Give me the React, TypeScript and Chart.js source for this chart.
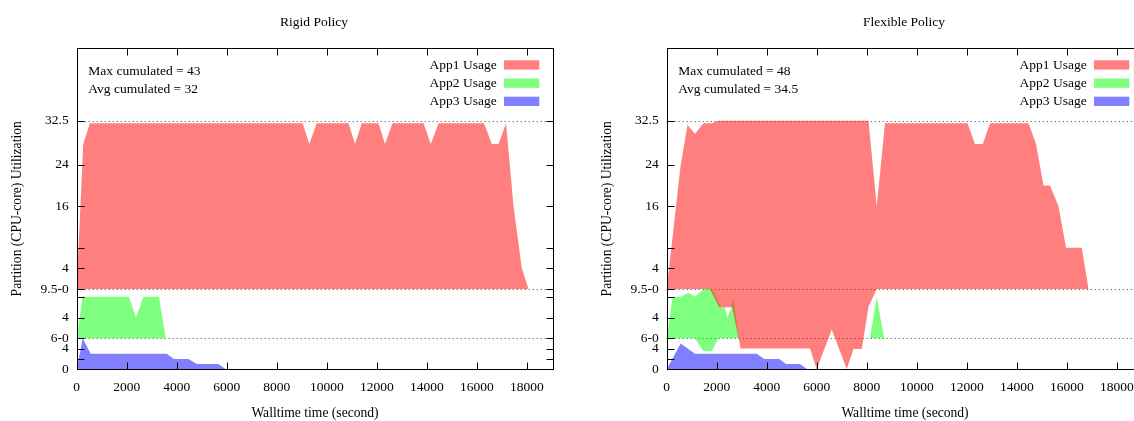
import React, { useEffect, useRef } from 'react';
import { Chart, registerables } from 'chart.js';

Chart.register(...registerables);

// ---------- axes ----------
const X_TICKS = [0, 2000, 4000, 6000, 8000, 10000, 12000, 14000, 16000, 18000];
const X_MAX = 19060;
const Y_MAX = 62;
// band bases on the shared axis: App3 0..6, App2 6..15.5, App1 15.5..
const APP1_BASE = 15.5;
const APP2_BASE = 6;
const APP3_BASE = 0;
const Y_TICK_VALUES = [0, 2, 4, 6, 10, 14, 15.5, 19.5, 23.5, 31.5, 39.5, 48];
const Y_TICK_LABELS = ['0', '', '4', '6-0', '4', '', '9.5-0', '4', '', '16', '24', '32.5'];
const GRID_VALUES = [6, 15.5, 48];

// ---------- Rigid policy ----------
const rigidApp1Time = [0, 260, 530, 9040, 9300, 9600, 10870, 11130, 11400, 12070, 12330, 12630, 13870, 14160, 14470, 16290, 16600, 16870, 17170, 17470, 17800, 18070];
const rigidApp1Cores = [0, 28, 32, 32, 28, 32, 32, 28, 32, 32, 28, 32, 32, 28, 32, 32, 28, 28, 32, 16, 4, 0];
const rigidApp2Time = [0, 240, 2090, 2370, 2670, 3290, 3560];
const rigidApp2Cores = [0, 8, 8, 4, 8, 8, 0];
const rigidApp3Time = [0, 240, 560, 3600, 3890, 4470, 4800, 5670, 5960];
const rigidApp3Cores = [0, 6, 3, 3, 2, 2, 1, 1, 0];

// ---------- Flexible policy ----------
const flexApp1Time = [0, 560, 830, 1130, 1470, 1800, 2070, 8070, 8400, 8730, 12030, 12330, 12640, 12930, 14470, 14770, 15070, 15330, 15670, 15970, 16600, 16870];
const flexApp1Cores = [0, 24, 31.7, 30, 32, 32, 32.5, 32.5, 16, 32, 32, 28, 28, 32, 32, 28, 20, 20, 16, 8, 8, 0];
// lower edge of the App1 area, in axis units
const flexApp1FloorTime = [0, 1730, 2100, 2620, 2960, 5730, 6000, 6600, 7200, 7470, 7800, 8070, 8400, 16870];
const flexApp1FloorLevel = [15.5, 15.5, 12, 12, 4, 4, 0, 7.7, 0, 3.9, 3.9, 12.1, 15.5, 15.5];
const flexApp2Time = [0, 240, 560, 870, 1130, 1470, 1800, 2170, 2330, 2420, 2600, 2660, 2890, 8130, 8400, 8700];
const flexApp2Cores = [0, 8, 8, 8.8, 8, 9.5, 9.5, 6, 6, 4, 6, 7.9, 0, 0, 7.9, 0];
// lower edge of the App2 area, in axis units
const flexApp2FloorTime = [0, 1130, 1470, 1800, 2070, 8700];
const flexApp2FloorLevel = [6, 6, 3.5, 3.5, 6, 6];
const flexApp3Time = [0, 560, 1130, 3600, 3900, 4500, 4770, 5330, 5630];
const flexApp3Cores = [0, 5, 3, 3, 2, 2, 1, 1, 0];

const LEGEND = ['App1 Usage', 'App2 Usage', 'App3 Usage'];
const RED = 'rgba(255,0,0,0.5)';
const GREEN = 'rgba(0,255,0,0.5)';
const BLUE = 'rgba(0,0,255,0.5)';
const COLORS = [RED, GREEN, BLUE];

const FONT = '"Liberation Serif", "Times New Roman", serif';
const FS = 13.5;

const W = 590;
const H = 421;
const AREA_LEFT = 76.7;
const AREA_RIGHT = 553.3;
const AREA_TOP = 48.3;
const AREA_BOTTOM = 369.3;

const pts = (t: number[], v: number[], base: number) => t.map((x, i) => ({ x, y: base + v[i] }));

function area(data: any[], color: string, fill: any) {
  return {
    data,
    backgroundColor: color,
    borderColor: 'transparent',
    borderWidth: 0,
    pointRadius: 0,
    pointHoverRadius: 0,
    tension: 0,
    fill,
  };
}

const framePlugin = {
  id: 'frame',
  beforeDatasetsDraw(chart: any) {
    const { ctx, chartArea: a } = chart;
    const y = chart.scales.y;
    ctx.save();
    ctx.strokeStyle = 'rgba(0,0,0,0.75)';
    ctx.lineWidth = 1;
    ctx.setLineDash([1, 3]);
    for (const v of GRID_VALUES) {
      const py = Math.round(y.getPixelForValue(v)) + 0.5;
      ctx.beginPath();
      ctx.moveTo(a.left, py);
      ctx.lineTo(a.right, py);
      ctx.stroke();
    }
    ctx.restore();
  },
  afterDraw(chart: any, _args: any, opts: any) {
    const { ctx, chartArea: a } = chart;
    const xs = chart.scales.x;
    const ys = chart.scales.y;
    const L = Math.round(a.left) + 0.5;
    const R = Math.round(a.right) + 0.5;
    const T = Math.round(a.top) + 0.5;
    const B = Math.round(a.bottom) + 0.5;
    ctx.save();
    ctx.strokeStyle = '#000';
    ctx.lineWidth = 1;
    ctx.setLineDash([]);
    ctx.strokeRect(L, T, R - L, B - T);
    const TL = 7;
    ctx.beginPath();
    for (const v of X_TICKS) {
      const px = Math.round(xs.getPixelForValue(v)) + 0.5;
      ctx.moveTo(px, B);
      ctx.lineTo(px, B - TL);
      ctx.moveTo(px, T);
      ctx.lineTo(px, T + TL);
    }
    for (const v of Y_TICK_VALUES) {
      const py = Math.round(ys.getPixelForValue(v)) + 0.5;
      ctx.moveTo(L, py);
      ctx.lineTo(L + TL, py);
      ctx.moveTo(R, py);
      ctx.lineTo(R - TL, py);
    }
    ctx.stroke();

    ctx.fillStyle = '#000';
    ctx.font = `${FS}px ${FONT}`;
    ctx.textBaseline = 'alphabetic';
    // title
    ctx.textAlign = 'center';
    ctx.fillText(opts.title, (a.left + a.right) / 2 - 1, 25.7);
    // annotations
    ctx.textAlign = 'left';
    ctx.fillText(opts.maxText, a.left + 11.6, 74.6);
    ctx.fillText(opts.avgText, a.left + 11.6, 92.8);
    // legend
    LEGEND.forEach((label, i) => {
      const base = 68.6 + i * 18.2;
      ctx.textAlign = 'right';
      ctx.fillStyle = '#000';
      ctx.fillText(label, a.right - 56.6, base);
      ctx.fillStyle = COLORS[i];
      ctx.fillRect(a.right - 49.3, base - 8.3, 35.3, 9.3);
    });
    ctx.restore();
  },
};

function makeConfig(datasets: any[], title: string, maxText: string, avgText: string): any {
  const font = { family: FONT, size: FS };
  return {
    type: 'line',
    data: { datasets },
    plugins: [framePlugin],
    options: {
      animation: false,
      responsive: false,
      devicePixelRatio: 1,
      parsing: true,
      layout: { padding: { left: 0, top: AREA_TOP, right: W - AREA_RIGHT, bottom: 0 } },
      plugins: {
        legend: { display: false },
        tooltip: { enabled: false },
        title: { display: false },
        frame: { title, maxText, avgText },
      },
      scales: {
        x: {
          type: 'linear',
          min: 0,
          max: X_MAX,
          afterBuildTicks: (s: any) => {
            s.ticks = X_TICKS.map((v) => ({ value: v }));
          },
          afterFit: (s: any) => {
            s.height = H - AREA_BOTTOM;
          },
          grid: { display: false, drawTicks: false },
          border: { display: false },
          ticks: {
            autoSkip: false,
            maxRotation: 0,
            padding: 10.5,
            color: '#000',
            font,
            callback: (v: any) => String(v),
          },
          title: {
            display: true,
            text: 'Walltime time (second)',
            color: '#000',
            font: { family: FONT, size: 13.6, lineHeight: 1.05 },
            padding: { top: 0, bottom: 0 },
          },
        },
        y: {
          type: 'linear',
          min: 0,
          max: Y_MAX,
          afterBuildTicks: (s: any) => {
            s.ticks = Y_TICK_VALUES.map((v) => ({ value: v }));
          },
          afterFit: (s: any) => {
            s.width = AREA_LEFT;
          },
          grid: { display: false, drawTicks: false },
          border: { display: false },
          ticks: {
            autoSkip: false,
            padding: 8,
            color: '#000',
            font,
            callback: (_v: any, i: number) => Y_TICK_LABELS[i],
          },
          title: {
            display: true,
            text: 'Partition (CPU-core) Utilization',
            color: '#000',
            font: { family: FONT, size: 13.6 },
            padding: { top: 9.3, bottom: 0 },
          },
        },
      },
    },
  };
}

function rigidDatasets() {
  return [
    area(pts(rigidApp1Time, rigidApp1Cores, APP1_BASE), RED, { value: APP1_BASE }),
    area(pts(rigidApp2Time, rigidApp2Cores, APP2_BASE), GREEN, { value: APP2_BASE }),
    area(pts(rigidApp3Time, rigidApp3Cores, APP3_BASE), BLUE, { value: APP3_BASE }),
  ];
}

function flexDatasets() {
  return [
    area(pts(flexApp1Time, flexApp1Cores, APP1_BASE), RED, 1),
    area(pts(flexApp1FloorTime, flexApp1FloorLevel, 0), 'transparent', false),
    area(pts(flexApp2Time, flexApp2Cores, APP2_BASE), GREEN, 3),
    area(pts(flexApp2FloorTime, flexApp2FloorLevel, 0), 'transparent', false),
    area(pts(flexApp3Time, flexApp3Cores, APP3_BASE), BLUE, { value: APP3_BASE }),
  ];
}

function Panel({ left, kind }: { left: number; kind: 'rigid' | 'flex' }) {
  const ref = useRef<HTMLCanvasElement | null>(null);
  useEffect(() => {
    if (!ref.current) return;
    const cfg =
      kind === 'rigid'
        ? makeConfig(rigidDatasets(), 'Rigid Policy', 'Max cumulated = 43', 'Avg cumulated = 32')
        : makeConfig(flexDatasets(), 'Flexible Policy', 'Max cumulated = 48', 'Avg cumulated = 34.5');
    const chart = new Chart(ref.current, cfg);
    return () => chart.destroy();
  }, [kind]);
  return (
    <div style={{ position: 'absolute', left, top: 0, width: W, height: H }}>
      <canvas ref={ref} width={W} height={H} style={{ display: 'block', width: W, height: H }} />
    </div>
  );
}

export default function App() {
  return (
    <div
      style={{
        position: 'absolute',
        left: 0,
        top: 0,
        width: 1134,
        height: 421,
        overflow: 'hidden',
        background: '#fff',
      }}
    >
      <Panel left={0} kind="rigid" />
      <Panel left={590} kind="flex" />
    </div>
  );
}
